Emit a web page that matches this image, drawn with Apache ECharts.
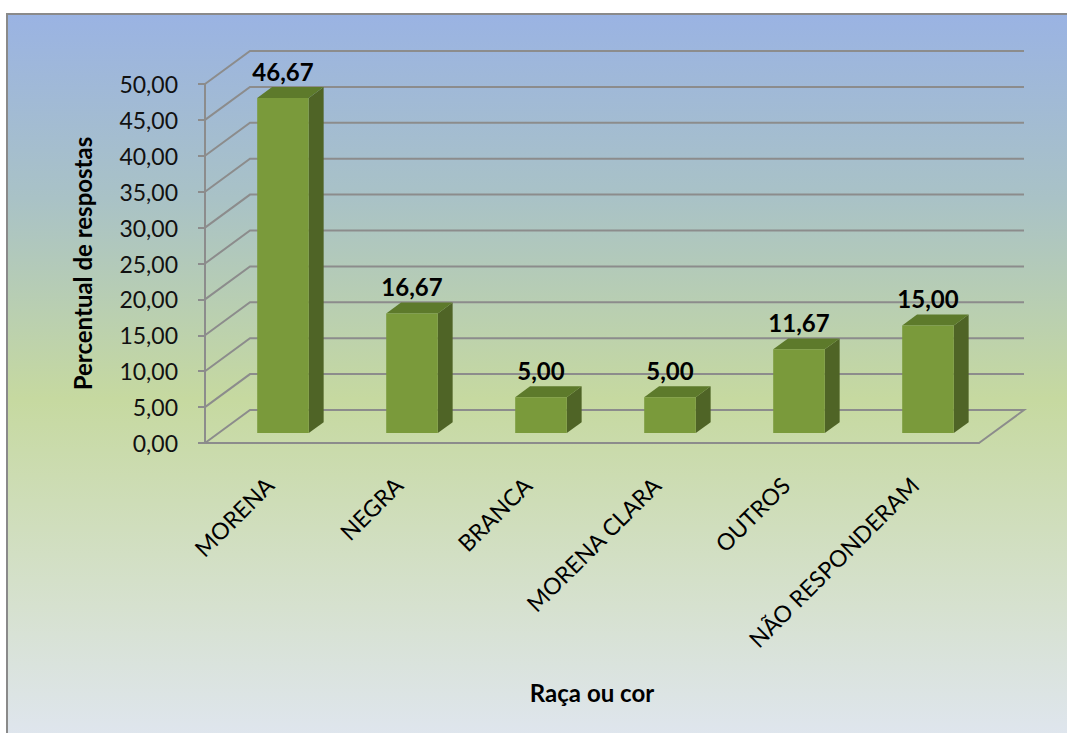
<!DOCTYPE html>
<html>
<head>
<meta charset="utf-8">
<script src="https://cdn.jsdelivr.net/npm/echarts@6/dist/echarts.min.js"></script>
<style>
  html, body { margin: 0; padding: 0; background: #fff; }
  #chart { width: 1067px; height: 733px; }
</style>
</head>
<body>
<div id="chart"></div>
<script>
// dados do gráfico
const categorias = ['MORENA', 'NEGRA', 'BRANCA', 'MORENA CLARA', 'OUTROS', 'NÃO RESPONDERAM']
const percentuais = [46.67, 16.67, 5.0, 5.0, 11.67, 15.0]
const ticksY = [0, 5, 10, 15, 20, 25, 30, 35, 40, 45, 50]

// profundidade do "3D" (parede do fundo)
const DX = 45
const DY = -33
const fmt = (v) => v.toFixed(2).replace('.', ',')
const FONT = 'Lato, "Open Sans", sans-serif'

const chart = echarts.init(document.getElementById('chart'), null, { renderer: 'svg' })

// linhas de grade: diagonal na parede lateral + horizontal no fundo
const renderGrade = (params, api) => {
  const cs = params.coordSys
  const y = api.coord([0, api.value(0)])[1]
  const x0 = cs.x
  const x1 = cs.x + cs.width
  const pts = [[x0, y], [x0 + DX, y + DY], [x1 + DX, y + DY]]
  if (api.value(0) === 0) pts.push([x1, y])
  return {
    type: 'polyline',
    shape: { points: pts },
    style: { stroke: '#8c8c8c', lineWidth: 2, fill: null }
  }
}

// barras 3D
const renderBarra = (params, api) => {
  const idx = api.value(0)
  const v = api.value(1)
  const base = api.coord([idx, 0])
  const topo = api.coord([idx, v])
  const banda = api.size([1, 0])[0]
  const w = banda * 0.4
  const ox = DX * 0.3
  const oy = DY * 0.3
  const px = DX * 0.33
  const py = DY * 0.33
  const xl = base[0] - w / 2 + ox
  const xr = xl + w
  const yb = base[1] + oy
  const yt = topo[1] + oy
  return {
    type: 'group',
    children: [
      {
        type: 'polygon',
        shape: { points: [[xr, yt], [xr + px, yt + py], [xr + px, yb + py], [xr, yb]] },
        style: { fill: '#4f6426' }
      },
      {
        type: 'polygon',
        shape: { points: [[xl, yt], [xl + px, yt + py], [xr + px, yt + py], [xr, yt]] },
        style: { fill: '#5d7a2b' }
      },
      {
        type: 'rect',
        shape: { x: xl, y: yt, width: w, height: yb - yt },
        style: { fill: '#7a9a3b' }
      },
      {
        type: 'text',
        x: (xl + xr) / 2,
        y: yt + py - 4,
        style: {
          text: fmt(v),
          align: 'center',
          verticalAlign: 'bottom',
          font: 'bold 24px ' + FONT,
          fill: '#000'
        }
      }
    ]
  }
}

const option = {
  backgroundColor: '#fff',
  graphic: [
    {
      type: 'rect',
      z: -10,
      shape: { x: 7, y: 14, width: 1080, height: 740 },
      style: {
        stroke: '#8a8a8a',
        lineWidth: 2,
        fill: {
          type: 'linear', x: 0, y: 0, x2: 0, y2: 1,
          colorStops: [
            { offset: 0, color: '#9ab3e3' },
            { offset: 0.25, color: '#a9c2c6' },
            { offset: 0.52, color: '#c6d9a0' },
            { offset: 0.8, color: '#d6e1cf' },
            { offset: 1, color: '#e0e6f2' }
          ]
        }
      }
    }
  ],
  grid: { left: 205, right: 88, top: 84, bottom: 290 },
  xAxis: {
    type: 'category',
    data: categorias,
    name: 'Raça ou cor',
    nameLocation: 'middle',
    nameGap: 237,
    nameTextStyle: { fontFamily: FONT, fontSize: 24, fontWeight: 'bold', color: '#000' },
    axisLine: { lineStyle: { color: '#8c8c8c', width: 2 } },
    axisTick: { length: 7, lineStyle: { color: '#8c8c8c', width: 2 } },
    axisLabel: { rotate: 45, margin: 38, fontFamily: FONT, fontSize: 23, color: '#000' },
    splitLine: { show: false }
  },
  yAxis: {
    type: 'value',
    min: 0,
    max: 50,
    interval: 5,
    name: 'Percentual de respostas',
    nameLocation: 'middle',
    nameGap: 111,
    nameTextStyle: { fontFamily: FONT, fontSize: 24, fontWeight: 'bold', color: '#000' },
    axisLine: { show: true, lineStyle: { color: '#8c8c8c', width: 2 } },
    axisTick: { show: true, length: 7, lineStyle: { color: '#8c8c8c', width: 2 } },
    axisLabel: { margin: 27, fontFamily: FONT, fontSize: 23, color: '#111', formatter: fmt },
    splitLine: { show: false }
  },
  series: [
    {
      type: 'custom',
      renderItem: renderGrade,
      data: ticksY.map((t) => [t]),
      encode: { y: 0 },
      silent: true,
      z: 1
    },
    {
      type: 'custom',
      renderItem: renderBarra,
      data: percentuais.map((v, i) => [i, v]),
      encode: { x: 0, y: 1 },
      z: 3
    }
  ]
}

chart.setOption(option)
</script>
</body>
</html>
